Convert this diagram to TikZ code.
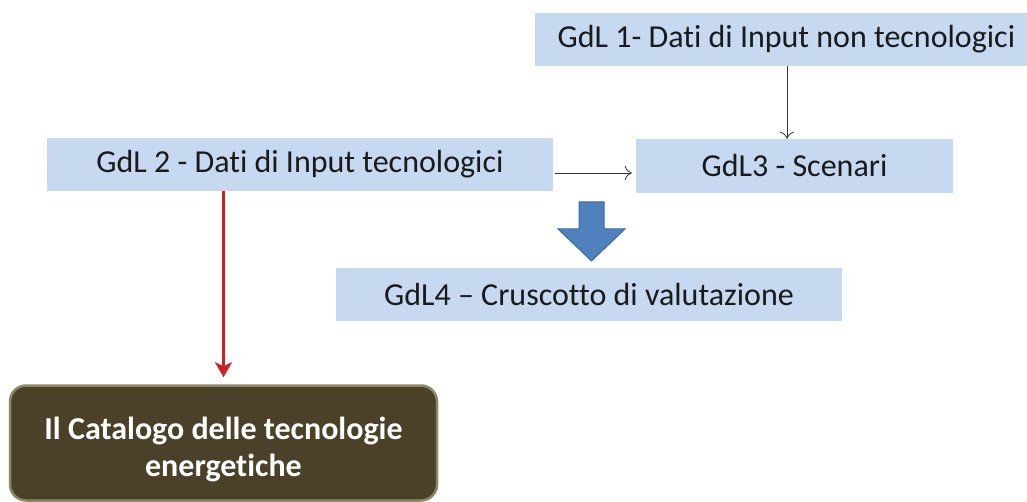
\documentclass[tikz,border=0pt]{standalone}
\usepackage{fontspec}
\setmainfont{Carlito}[Ligatures={NoCommon}]
\usetikzlibrary{arrows.meta,calc}
\definecolor{boxblue}{HTML}{C6D9F0}
\definecolor{catfill}{HTML}{4A4128}
\definecolor{catborder}{HTML}{8E8766}
\definecolor{bigblue}{HTML}{4F81BD}
\definecolor{bigblueedge}{HTML}{3D6BA3}
\definecolor{redarr}{HTML}{C8222A}
\definecolor{txt}{HTML}{1A1A1A}
\tikzset{
  gdlbox/.style={rectangle, fill=boxblue, draw=none, inner sep=0pt, text=txt, font=\fontsize{32}{36}\selectfont},
  catbox/.style={rectangle, rounded corners=16pt, fill=catfill, draw=catborder, line width=2.5pt, inner sep=0pt, text=white, align=center, font=\fontsize{32}{37}\selectfont\bfseries},
  thinarrow/.style={draw=black!80, line width=0.8pt, -{To[length=7pt,width=14pt]}},
  redarrow/.style={draw=redarr, line width=3pt, -{Stealth[length=15pt,width=17pt,inset=4pt]}},
}
\begin{document}
\begin{tikzpicture}[x=1pt,y=-1pt]
\useasboundingbox (0,0) rectangle (1027,502);
\node[gdlbox, minimum width=503pt, minimum height=53pt] (g1) at (786.5,39.5) {GdL 1- Dati di Input non tecnologici};
\node[gdlbox, minimum width=317pt, minimum height=54pt] (g3) at (794.5,166) {GdL3 - Scenari};
\node[gdlbox, minimum width=506pt, minimum height=53pt] (g2) at (300,164.5) {GdL 2 - Dati di Input tecnologici};
\node[gdlbox, minimum width=506pt, minimum height=53pt] (g4) at (589,294.5) {GdL4 – Cruscotto di valutazione};
\node[catbox, minimum width=427pt, minimum height=115pt, text height=72pt] (cat) at (223.5,443) {Il Catalogo delle tecnologie\\energetiche};
% connectors
\draw[thinarrow] ([xshift=0.5pt]g1.south) -- ([xshift=-7.5pt]g3.north);
\draw[thinarrow, shorten <=2pt, shorten >=4pt] ([yshift=-8.5pt]g2.east) -- ([yshift=-7pt]g3.west);
\draw[redarrow, shorten >=7pt] (g2.south -| cat.north) -- (cat.north);
% block arrow from GdL3 towards GdL4
\coordinate (ba) at (591.5,202);
\fill[bigblue, draw=bigblueedge, line width=1pt, line join=miter]
  (ba) ++(-12.5,0) -- ++(25,0) -- ++(0,27) -- ++(21,0) -- ++(-33.5,32) -- ++(-33.5,-32) -- ++(21,0) -- cycle;
\end{tikzpicture}
\end{document}
